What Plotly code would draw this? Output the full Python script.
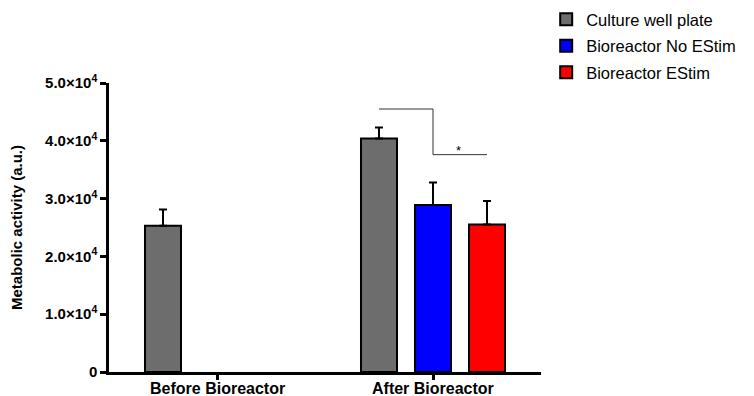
import plotly.graph_objects as go

categories = ["Before Bioreactor", "After Bioreactor"]
series_names = ["Culture well plate", "Bioreactor No EStim", "Bioreactor EStim"]
culture_vals = [25300, 40400]
culture_err = [2800, 1900]
noestim_vals = [None, 28900]
noestim_err = [0, 3900]
estim_vals = [None, 25500]
estim_err = [0, 4100]
y_tickvals = [0, 10000, 20000, 30000, 40000, 50000]
y_ticktext = ["0", "1.0×10<sup>4</sup>", "2.0×10<sup>4</sup>", "3.0×10<sup>4</sup>",
              "4.0×10<sup>4</sup>", "5.0×10<sup>4</sup>"]
bracket_high = 45500
bracket_low = 37600
star_label = "*"

colors = ["#6d6d6d", "#0000ff", "#ff0000"]
vals = [culture_vals, noestim_vals, estim_vals]
errs = [culture_err, noestim_err, estim_err]

fig = go.Figure()
for i, name in enumerate(series_names):
    fig.add_trace(go.Bar(
        x=categories, y=vals[i], name=name, legendgroup=name,
        marker=dict(color=colors[i], line=dict(color="black", width=2)),
        error_y=dict(type="data", array=errs[i], arrayminus=[0, 0], symmetric=False,
                     color="black", thickness=2, width=4),
    ))

# significance bracket: from culture (after) to noestim/estim
fig.add_shape(type="path", xref="x", yref="y",
              path=f"M 0.75,{bracket_high} L 1.0,{bracket_high} L 1.0,{bracket_low} L 1.25,{bracket_low}",
              line=dict(color="#333333", width=1))
fig.add_annotation(x=1.12, y=bracket_low, xref="x", yref="y", text=star_label,
                   showarrow=False, yanchor="bottom", yshift=-5,
                   font=dict(size=13, color="black", family="Liberation Sans"))

# category labels placed close under the axis
for c in categories:
    fig.add_annotation(x=c, y=0, xref="x", yref="paper", text=f"<b>{c}</b>",
                       showarrow=False, yanchor="top", yshift=-6,
                       font=dict(size=16, color="black", family="Liberation Sans"))

fig.update_layout(
    width=754, height=396,
    margin=dict(l=101, r=221, t=75, b=32, autoexpand=False),
    plot_bgcolor="white", paper_bgcolor="white",
    barmode="group", bargap=0.25, bargroupgap=0.333,
    font=dict(family="Liberation Sans, Arial, sans-serif", color="black"),
    showlegend=True,
    legend=dict(x=1.012, y=1.28, xanchor="left", yanchor="top",
                font=dict(size=16.5, family="Liberation Sans"),
                traceorder="grouped", tracegroupgap=2,
                bgcolor="rgba(0,0,0,0)"),
)
fig.update_xaxes(
    type="category", range=[-0.5, 1.5],
    showline=True, linecolor="black", linewidth=2.5,
    ticks="outside", ticklen=5, tickwidth=2.5, tickcolor="black",
    showticklabels=False,
    showgrid=False,
)
fig.update_yaxes(
    range=[0, 50000], tickvals=y_tickvals, ticktext=y_ticktext,
    showline=True, linecolor="black", linewidth=2.5,
    ticks="outside", ticklen=6, tickwidth=2.5, tickcolor="black",
    tickfont=dict(size=15, family="Liberation Sans", weight="bold"),
    showgrid=False, zeroline=False,
    title=dict(text="Metabolic activity (a.u.)", standoff=34,
               font=dict(size=15, family="Liberation Sans", weight="bold")),
)

fig.write_html("out.html")
